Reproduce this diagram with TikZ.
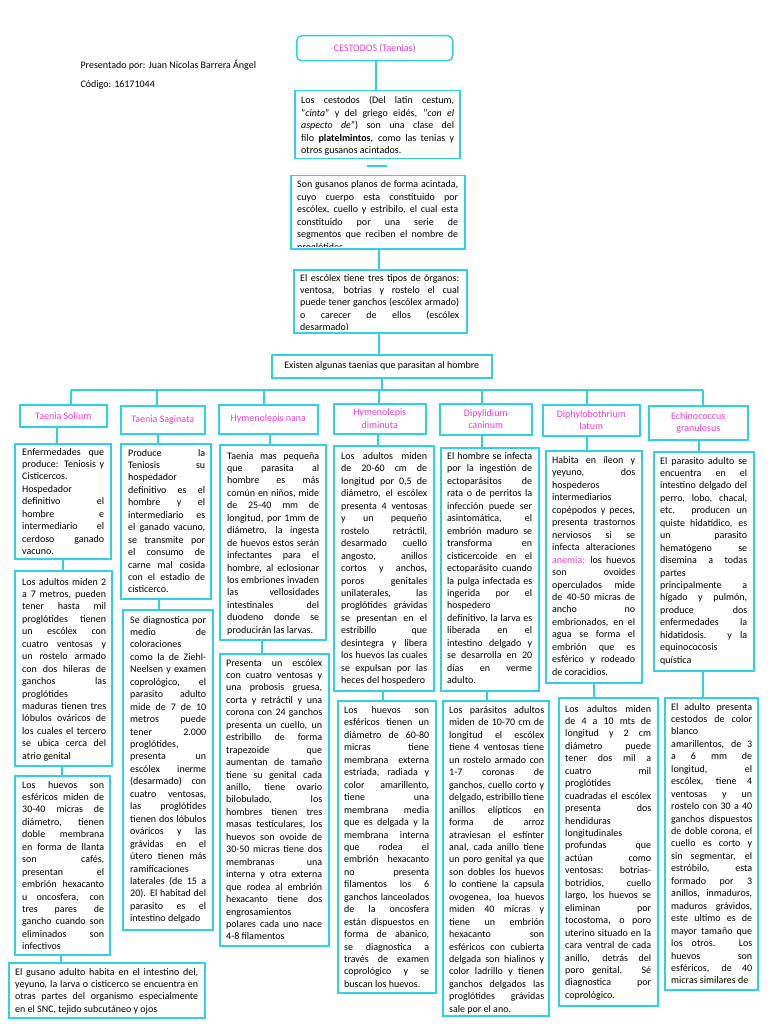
\documentclass[tikz,border=0pt]{standalone}
\usepackage{fontspec}
\setmainfont{Carlito}
\usepackage{tikz}
\usetikzlibrary{positioning, calc}
\definecolor{cyanline}{HTML}{2DD3E3}
\definecolor{pinktext}{HTML}{F03CCF}
\newcommand{\jbr}{\linebreak}
\hbadness=10000
\hyphenpenalty=10000
\exhyphenpenalty=10000
\tolerance=10000

\tikzset{
  cbox/.style={draw=cyanline, line width=1.5pt, inner sep=0pt, anchor=north west},
  ctxt/.style={anchor=base west, inner sep=0pt, text width=#1, align=justify, font=\fontsize{10}{12.45}\selectfont},
  ttl/.style={text=pinktext, align=center, font=\fontsize{10}{12.45}\selectfont},
  link/.style={draw=cyanline, line width=1.6pt},
}

\begin{document}
\begin{tikzpicture}[x=1pt, y=-1pt, font=\fontsize{10}{12.45}\selectfont]
    \path[use as bounding box, fill=white] (0,0) rectangle (768,1024);

    % Header
    \node[anchor=base west] (pres) at (77,69) {Presentado por: Juan Nicolas Barrera Ángel};
    \node[anchor=base west] (cod) at (77,88) {Código: 16171044};
    \node[cbox, ttl, rounded corners=5pt, minimum width=156, minimum height=25] (title) at (296,35) {CESTODOS (Taenias)};

    % Central column
    \node[cbox, minimum width=165, minimum height=68] (b1) at (294,90) {};
    \node[ctxt=153] (b1t) at (301,104) {Los cestodos (Del latin cestum,\jbr "\textit{cinta}" y del griego eidés, "\textit{con el\jbr aspecto de}") son una clase del\jbr filo \textbf{platelmintos}, como las tenias y\jbr otros gusanos acintados.};
    \coordinate (stubl) at (367,166);
    \coordinate (stubr) at (387,166);
    \draw[link] (stubl) -- (stubr);

    \node[cbox, minimum width=174, minimum height=73] (b2) at (290,175) {};
    \begin{scope}
        \clip ([shift={(1,1)}]b2.north west) rectangle ([shift={(-1,-3)}]b2.south east);
        \node[ctxt=161] (b2t) at (297,188) {Son gusanos planos de forma acintada,\jbr cuyo cuerpo esta constituido por\jbr escólex, cuello y estribilo, el cual esta\jbr constituido por una serie de\jbr segmentos que reciben el nombre de\jbr proglótides.};
    \end{scope}

    \node[cbox, minimum width=173, minimum height=63] (b3) at (293,269) {};
    \begin{scope}
        \clip ([shift={(1,1)}]b3.north west) rectangle ([shift={(-1,-4)}]b3.south east);
        \node[ctxt=159] (b3t) at (300,281) {El escólex tiene tres tipos de órganos:\jbr ventosa, botrias y rostelo el cual\jbr puede tener ganchos (escólex armado)\jbr o carecer de ellos (escólex\jbr desarmado)};
    \end{scope}

    \node[cbox, minimum width=220, minimum height=23] (b4) at (271,354) {Existen algunas taenias que parasitan al hombre};

    % Species headings
    \node[cbox, ttl, minimum width=87, minimum height=22] (h1) at (19,404) {Taenia Solium};
    \node[cbox, ttl, minimum width=84, minimum height=28] (h2) at (120,405) {Taenia Saginata};
    \node[cbox, ttl, minimum width=99, minimum height=29] (h3) at (218,404) {Hymenolepis nana};
    \node[cbox, ttl, minimum width=92, minimum height=30] (h4) at (333,403) {Hymenolepis\\diminuta};
    \node[cbox, ttl, minimum width=92, minimum height=31] (h5) at (439,403) {Dipylidium\\caninum};
    \node[cbox, ttl, minimum width=97, minimum height=31] (h6) at (542,404) {Diphylobothrium\\latum};
    \node[cbox, ttl, minimum width=99, minimum height=34] (h7) at (648,405) {Echinococcus\\granulosus};

    % Taenia Solium
    \node[cbox, minimum width=96, minimum height=115] (s1) at (14,443) {};
    \node[ctxt=82] (s1t) at (22,455) {Enfermedades que\jbr produce: Teniosis y\jbr Cisticercos.\jbr Hospedador\jbr definitivo el\jbr hombre e\jbr intermediario el\jbr cerdoso ganado\jbr vacuno.};
    \node[cbox, minimum width=97, minimum height=195] (s2) at (14,570) {};
    \node[ctxt=84] (s2t) at (22,585) {Los adultos miden 2\jbr a 7 metros, pueden\jbr tener hasta mil\jbr proglótides tienen\jbr un escólex con\jbr cuatro ventosas y\jbr un rostelo armado\jbr con dos hileras de\jbr ganchos las\jbr proglótides\jbr maduras tienen tres\jbr lóbulos ováricos de\jbr los cuales el tercero\jbr se ubica cerca del\jbr atrio genital};
    \node[cbox, minimum width=95, minimum height=179] (s3) at (14,775) {};
    \node[ctxt=82] (s3t) at (22,788) {Los huevos son\jbr esféricos miden de\jbr 30-40 micras de\jbr diámetro, tienen\jbr doble membrana\jbr en forma de llanta\jbr son cafés,\jbr presentan el\jbr embrión hexacanto\jbr u oncosfera, con\jbr tres pares de\jbr gancho cuando son\jbr eliminados son\jbr infectivos};
    \node[cbox, minimum width=196, minimum height=55] (s4) at (8,962) {};
    \node[ctxt=183] (s4t) at (15,975) {El gusano adulto habita en el intestino del,\jbr yeyuno, la larva o cisticerco se encuentra en\jbr otras partes del organismo especialmente\jbr en el SNC, tejido subcutáneo y ojos};

    % Taenia Saginata
    \node[cbox, minimum width=90, minimum height=155] (g1) at (120,443) {};
    \node[ctxt=77] (g1t) at (128,456) {Produce la\jbr Teniosis su\jbr hospedador\jbr definitivo es el\jbr hombre y el\jbr intermediario es\jbr el ganado vacuno,\jbr se transmite por\jbr el consumo de\jbr carne mal cosida\jbr con el estadio de\jbr cisticerco.};
    \node[cbox, minimum width=90, minimum height=320] (g2) at (122,609) {};
    \node[ctxt=76] (g2t) at (130,623) {Se diagnostica por\jbr medio de\jbr coloraciones\jbr como la de Ziehl-\jbr Neelsen y examen\jbr coprológico, el\jbr parasito adulto\jbr mide de 7 de 10\jbr metros puede\jbr tener 2.000\jbr proglótides,\jbr presenta un\jbr escólex inerme\jbr (desarmado) con\jbr cuatro ventosas,\jbr las proglótides\jbr tienen dos lóbulos\jbr ováricos y las\jbr grávidas en el\jbr útero tienen más\jbr ramificaciones\jbr laterales (de 15 a\jbr 20). El habitad del\jbr parasito es el\jbr intestino delgado};

    % Hymenolepis nana
    \node[cbox, minimum width=106, minimum height=195] (n1) at (219,444) {};
    \node[ctxt=92] (n1t) at (227,459) {Taenia mas pequeña\jbr que parasita al\jbr hombre es más\jbr común en niños, mide\jbr de 25-40 mm de\jbr longitud, por 1mm de\jbr diámetro, la ingesta\jbr de huevos estos serán\jbr infectantes para el\jbr hombre, al eclosionar\jbr los embriones invaden\jbr las vellosidades\jbr intestinales del\jbr duodeno donde se\jbr producirán las larvas.};
    \node[cbox, minimum width=109, minimum height=292] (n2) at (219,653) {};
    \node[ctxt=96] (n2t) at (226,666) {Presenta un escólex\jbr con cuatro ventosas y\jbr una probosis gruesa,\jbr corta y retráctil y una\jbr corona con 24 ganchos\jbr presenta un cuello, un\jbr estribillo de forma\jbr trapezoide que\jbr aumentan de tamaño\jbr tiene su genital cada\jbr anillo, tiene ovario\jbr bilobulado, los\jbr hombres tienen tres\jbr masas testiculares, los\jbr huevos son ovoide de\jbr 30-50 micras tiene dos\jbr membranas una\jbr interna y otra externa\jbr que rodea al embrión\jbr hexacanto tiene dos\jbr engrosamientos\jbr polares cada uno nace\jbr 4-8 filamentos};

    % Hymenolepis diminuta
    \node[cbox, minimum width=100, minimum height=245] (d1) at (333,445) {};
    \node[ctxt=86] (d1t) at (341,459.5) {Los adultos miden\jbr de 20-60 cm de\jbr longitud por 0,5 de\jbr diámetro, el escólex\jbr presenta 4 ventosas\jbr y un pequeño\jbr rostelo retráctil,\jbr desarmado cuello\jbr angosto, anillos\jbr cortos y anchos,\jbr poros genitales\jbr unilaterales, las\jbr proglótides grávidas\jbr se presentan en el\jbr estribillo que\jbr desintegra y libera\jbr los huevos las cuales\jbr se expulsan por las\jbr heces del hospedero};
    \node[cbox, minimum width=98, minimum height=292] (d2) at (337,700) {};
    \node[ctxt=85] (d2t) at (344,713.5) {Los huevos son\jbr esféricos tienen un\jbr diámetro de 60-80\jbr micras tiene\jbr membrana externa\jbr estriada, radiada y\jbr color amarillento,\jbr tiene una\jbr membrana media\jbr que es delgada y la\jbr membrana interna\jbr que rodea el\jbr embrión hexacanto\jbr no presenta\jbr filamentos los 6\jbr ganchos lanceolados\jbr de la oncosfera\jbr están dispuestos en\jbr forma de abanico,\jbr se diagnostica a\jbr través de examen\jbr coprológico y se\jbr buscan los huevos.};

    % Dipylidium caninum
    \node[cbox, minimum width=98, minimum height=243] (p1) at (440,447) {};
    \node[ctxt=85] (p1t) at (447,459.5) {El hombre se infecta\jbr por la ingestión de\jbr ectoparásitos de\jbr rata o de perritos la\jbr infección puede ser\jbr asintomática, el\jbr embrión maduro se\jbr transforma en\jbr cisticercoide en el\jbr ectoparásito cuando\jbr la pulga infectada es\jbr ingerida por el\jbr hospedero\jbr definitivo, la larva es\jbr liberada en el\jbr intestino delgado y\jbr se desarrolla en 20\jbr días en verme\jbr adulto.};
    \node[cbox, minimum width=106, minimum height=315] (p2) at (442,700) {};
    \node[ctxt=95] (p2t) at (449,713.5) {Los parásitos adultos\jbr miden de 10-70 cm de\jbr longitud el escólex\jbr tiene 4 ventosas tiene\jbr un rostelo armado con\jbr 1-7 coronas de\jbr ganchos, cuello corto y\jbr delgado, estribillo tiene\jbr anillos elípticos en\jbr forma de arroz\jbr atraviesan el esfínter\jbr anal, cada anillo tiene\jbr un poro genital ya que\jbr son dobles los huevos\jbr lo contiene la capsula\jbr ovogenea, loa huevos\jbr miden 40 micras y\jbr tiene un embrión\jbr hexacanto son\jbr esféricos con cubierta\jbr delgada son hialinos y\jbr color ladrillo y tienen\jbr ganchos delgados las\jbr proglótides grávidas\jbr sale por el ano.};

    % Diphylobothrium latum
    \node[cbox, minimum width=96, minimum height=232] (l1) at (545,450) {};
    \node[ctxt=83] (l1t) at (552,463.5) {Habita en íleon y\jbr yeyuno, dos\jbr hospederos\jbr intermediarios\jbr copépodos y peces,\jbr presenta trastornos\jbr nerviosos si se\jbr infecta alteraciones\jbr \textcolor{pinktext}{anemia;} los huevos\jbr son ovoides\jbr operculados mide\jbr de 40-50 micras de\jbr ancho no\jbr embrionados, en el\jbr agua se forma el\jbr embrión que es\jbr esférico y rodeado\jbr de coracidios.};
    \node[cbox, minimum width=99, minimum height=308] (l2) at (558,697) {};
    \node[ctxt=86] (l2t) at (565,712) {Los adultos miden\jbr de 4 a 10 mts de\jbr longitud y 2 cm\jbr diámetro puede\jbr tener dos mil a\jbr cuatro mil\jbr proglótides\jbr cuadradas el escólex\jbr presenta dos\jbr hendiduras\jbr longitudinales\jbr profundas que\jbr actúan como\jbr ventosas: botrias-\jbr botridios, cuello\jbr largo, los huevos se\jbr eliminan por\jbr tocostoma, o poro\jbr uterino situado en la\jbr cara ventral de cada\jbr anillo, detrás del\jbr poro genital. Sé\jbr diagnostica por\jbr coprológico.};

    % Echinococcus granulosus
    \node[cbox, minimum width=100, minimum height=219] (e1) at (653,451) {};
    \node[ctxt=87] (e1t) at (660,464) {El parasito adulto se\jbr encuentra en el\jbr intestino delgado del\jbr perro, lobo, chacal,\jbr etc. producen un\jbr quiste hidatídico, es\jbr un parasito\jbr hematógeno se\jbr disemina a todas\jbr partes\jbr principalmente a\jbr hígado y pulmón,\jbr produce dos\jbr enfermedades la\jbr hidatidosis. y la\jbr equinococosis\jbr quística};
    \node[cbox, minimum width=93, minimum height=292] (e2) at (664,697) {};
    \node[ctxt=81] (e2t) at (671,710) {\parfillskip=0pt El adulto presenta\jbr cestodos de color\jbr blanco\jbr amarillentos, de 3\jbr a 6 mm de\jbr longitud, el\jbr escólex, tiene 4\jbr ventosas y un\jbr rostelo con 30 a 40\jbr ganchos dispuestos\jbr de doble corona, el\jbr cuello es corto y\jbr sin segmentar, el\jbr estróbilo, esta\jbr formado por 3\jbr anillos, inmaduros,\jbr maduros grávidos,\jbr este ultimo es de\jbr mayor tamaño que\jbr los otros. Los\jbr huevos son\jbr esféricos, de 40\jbr micras similares de};

    % Connectors
    \coordinate (busl) at (71,390);
    \coordinate (busr) at (703,390);
    \draw[link] (b4.south) -- (b4.south |- busl);
    \draw[link] (busl) -- (busr);
    \foreach \hn/\hx in {h1/71, h2/157, h3/264, h4/379, h5/482, h6/587, h7/703}{
        \draw[link] (\hx,390) -- (\hx,0 |- \hn.north);
    }
    \foreach \up/\dn/\cx in {title/b1/376, b2/b3/379, b3/b4/379,
        h1/s1/57, s1/s2/63, s2/s3/62, s3/s4/61, h2/g1/158, g1/g2/159,
        h3/n1/270, n1/n2/262, h4/d1/378, d1/d2/383, h5/p1/482, p1/p2/487,
        h6/l1/587, l1/l2/594, h7/e1/699, e1/e2/703}{
        \draw[link] (\cx,0 |- \up.south) -- (\cx,0 |- \dn.north);
    }
\end{tikzpicture}
\end{document}
